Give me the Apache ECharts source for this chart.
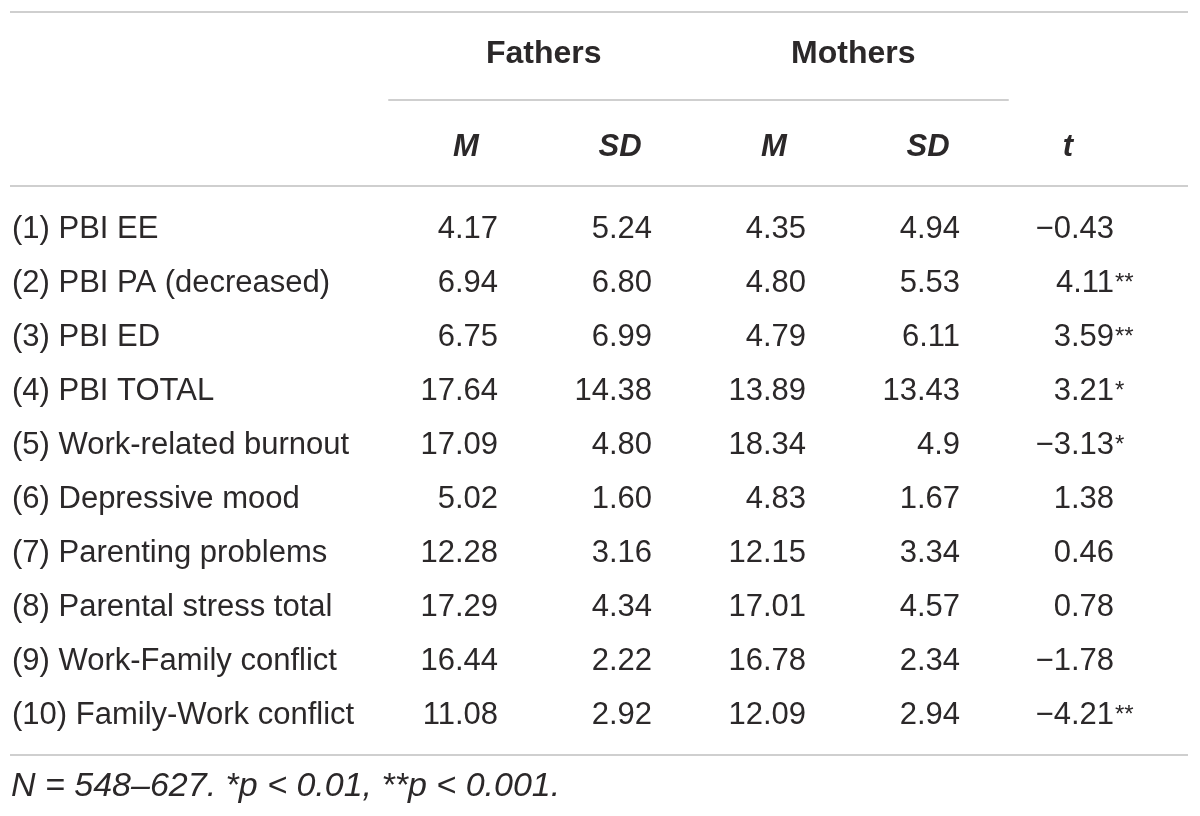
<!DOCTYPE html>
<html lang="en">
<head>
<meta charset="UTF-8">
<title>Fathers vs Mothers</title>
<script src="https://cdn.jsdelivr.net/npm/echarts@6.0.0/dist/echarts.min.js"></script>
<style>
  html, body { margin: 0; padding: 0; background: #fff; }
  #main { width: 1200px; height: 816px; }
</style>
</head>
<body>
<div id="main"></div>
<script>
// table content
const groups = ['Fathers', 'Mothers'];
const columns = ['M', 'SD', 'M', 'SD', 't'];
const rowLabels = [
  '(1) PBI EE',
  '(2) PBI PA (decreased)',
  '(3) PBI ED',
  '(4) PBI TOTAL',
  '(5) Work-related burnout',
  '(6) Depressive mood',
  '(7) Parenting problems',
  '(8) Parental stress total',
  '(9) Work-Family conflict',
  '(10) Family-Work conflict'
];
const fathersM  = ['4.17', '6.94', '6.75', '17.64', '17.09', '5.02', '12.28', '17.29', '16.44', '11.08'];
const fathersSD = ['5.24', '6.80', '6.99', '14.38', '4.80', '1.60', '3.16', '4.34', '2.22', '2.92'];
const mothersM  = ['4.35', '4.80', '4.79', '13.89', '18.34', '4.83', '12.15', '17.01', '16.78', '12.09'];
const mothersSD = ['4.94', '5.53', '6.11', '13.43', '4.9', '1.67', '3.34', '4.57', '2.34', '2.94'];
const tValues   = ['−0.43', '4.11', '3.59', '3.21', '−3.13', '1.38', '0.46', '0.78', '−1.78', '−4.21'];
const tStars    = ['', '**', '**', '*', '*', '', '', '', '', '**'];
const note = 'N = 548–627. *p < 0.01, **p < 0.001.';

const FONT = '"Liberation Sans", Arial, sans-serif';
const INK = '#2b2829';
const RULE = '#cfcfcf';
const FS = 31;

// one cell per value: [column, row]
const colData = [fathersM, fathersSD, mothersM, mothersSD, tValues];
let cells = [];
colData.forEach((arr, c) => {
  arr.forEach((txt, r) => {
    cells.push({ value: [c, r], txt: txt, stars: c === 4 ? tStars[r] : '' });
  });
});

const chart = echarts.init(document.getElementById('main'));

chart.setOption({
  animation: false,
  grid: [
    { left: 389, right: 41, top: 203, bottom: 74 },
    { left: 389, width: 619, top: 99, height: 1 }
  ],
  xAxis: [
    {
      type: 'category', gridIndex: 0, data: columns, position: 'top',
      axisLine: { show: false }, axisTick: { show: false }, splitLine: { show: false },
      axisLabel: {
        margin: 40, fontSize: FS, fontWeight: 'bold', fontStyle: 'italic',
        fontFamily: FONT, color: INK,
        formatter: (v, i) => i === 4 ? '{t|' + v + '}' : v,
        rich: { t: { fontSize: FS, fontWeight: 'bold', fontStyle: 'italic', fontFamily: FONT, color: INK, padding: [0, 28, 0, 0] } }
      }
    },
    {
      type: 'category', gridIndex: 1, data: groups, position: 'top',
      axisLine: { show: true, lineStyle: { color: RULE, width: 2 } },
      axisTick: { show: false }, splitLine: { show: false },
      axisLabel: { margin: 29, fontSize: 32, fontWeight: 'bold', fontFamily: FONT, color: INK }
    }
  ],
  yAxis: [
    {
      type: 'category', gridIndex: 0, data: rowLabels, inverse: true,
      axisLine: { show: false }, axisTick: { show: false }, splitLine: { show: false },
      axisLabel: { align: 'left', margin: 377, fontSize: FS, fontFamily: FONT, color: INK }
    },
    { type: 'value', gridIndex: 1, show: false }
  ],
  series: [{
    type: 'custom',
    xAxisIndex: 0, yAxisIndex: 0,
    data: cells,
    renderItem: function (params, api) {
      const pt = api.coord([api.value(0), api.value(1)]);
      const cell = cells[params.dataIndex];
      const x = pt[0] + 32;
      let kids = [{
        type: 'text',
        style: { text: cell.txt, x: x, y: pt[1], align: 'right', verticalAlign: 'middle',
                 fontSize: FS, fontFamily: FONT, fill: INK }
      }];
      if (cell.stars) {
        kids.push({
          type: 'text',
          style: { text: cell.stars, x: x + 1, y: pt[1] - 12, align: 'left', verticalAlign: 'top',
                   fontSize: 24, fontFamily: FONT, fill: INK }
        });
      }
      return { type: 'group', children: kids };
    }
  }],
  graphic: [
    { type: 'line', shape: { x1: 10, y1: 12, x2: 1188, y2: 12 }, style: { stroke: RULE, lineWidth: 2 } },
    { type: 'line', shape: { x1: 10, y1: 186, x2: 1188, y2: 186 }, style: { stroke: RULE, lineWidth: 2 } },
    { type: 'line', shape: { x1: 10, y1: 755, x2: 1188, y2: 755 }, style: { stroke: RULE, lineWidth: 2 } },
    {
      type: 'text', left: 11, top: 770,
      style: { text: note, fontSize: 34, fontStyle: 'italic', fontFamily: FONT, fill: INK }
    }
  ]
});
</script>
</body>
</html>
